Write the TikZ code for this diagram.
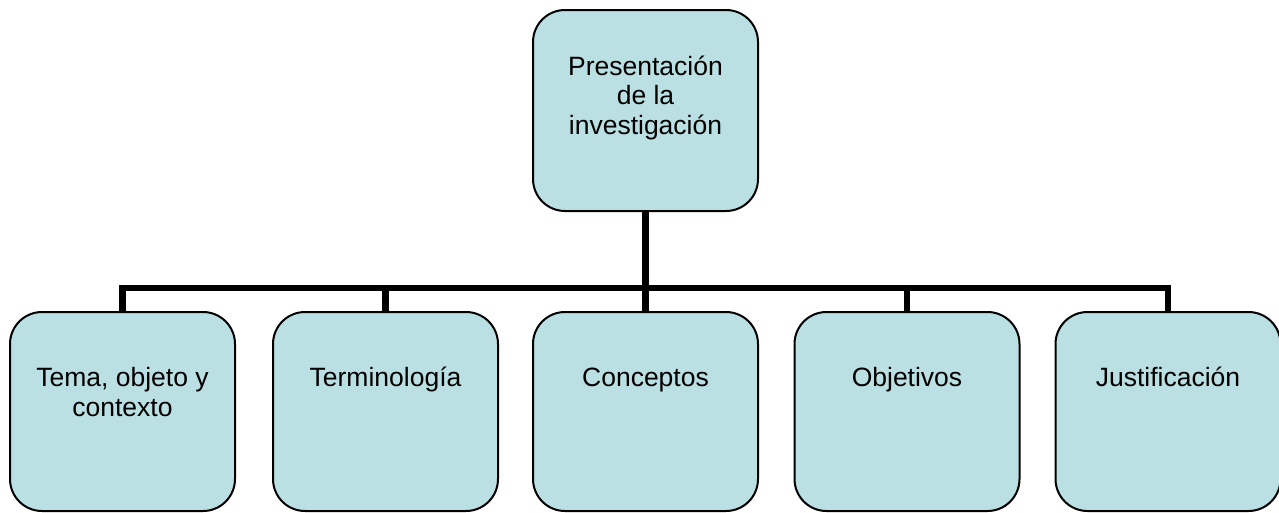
\documentclass[tikz,border=0pt]{standalone}
\usepackage{fontspec}
\setmainfont{Liberation Sans}
\usepackage{tikz}
\usetikzlibrary{positioning}
\definecolor{boxfill}{RGB}{187,224,227}
\tikzset{
    orgbox/.style={draw=black, fill=boxfill, line width=2pt, rounded corners=32pt,
        minimum width=225pt, inner sep=0pt},
    topbox/.style={orgbox, minimum height=201pt},
    subbox/.style={orgbox, minimum height=199pt},
    boxtext/.style={align=center, font=\fontsize{26.5pt}{29.5pt}\selectfont, inner sep=0pt, anchor=base},
    branch/.style={draw=black, line width=6.5pt},
}

\begin{document}
\begin{tikzpicture}[x=1pt, y=1pt]
	\useasboundingbox (0,0) rectangle (1279,-512);
	\node[topbox] (pres) at (645.5,-110.5) {};
	\node[subbox] (tema) at (122.5,-411.5) {};
	\node[subbox] (term) at (385.5,-411.5) {};
	\node[subbox] (conc) at (645.5,-411.5) {};
	\node[subbox] (obje) at (907,-411.5) {};
	\node[subbox] (just) at (1168,-411.5) {};
	\coordinate (bus) at (645.5,-288);
	% texts (base = last line)
	\node[boxtext] (presT) at ([yshift=-125pt]pres.north) {Presentación\\de la\\investigación};
	\node[boxtext] (temaT) at ([yshift=-105pt]tema.north) {Tema, objeto y\\contexto};
	\node[boxtext] (termT) at ([yshift=-75pt]term.north) {Terminología};
	\node[boxtext] (concT) at ([yshift=-75pt]conc.north) {Conceptos};
	\node[boxtext] (objeT) at ([yshift=-75pt]obje.north) {Objetivos};
	\node[boxtext] (justT) at ([yshift=-75pt]just.north) {Justificación};
	% connectors
	\foreach \b in {tema,term,conc,obje,just}
		\draw[branch] (pres.south) -- (bus) -| (\b.north);
\end{tikzpicture}
\end{document}
